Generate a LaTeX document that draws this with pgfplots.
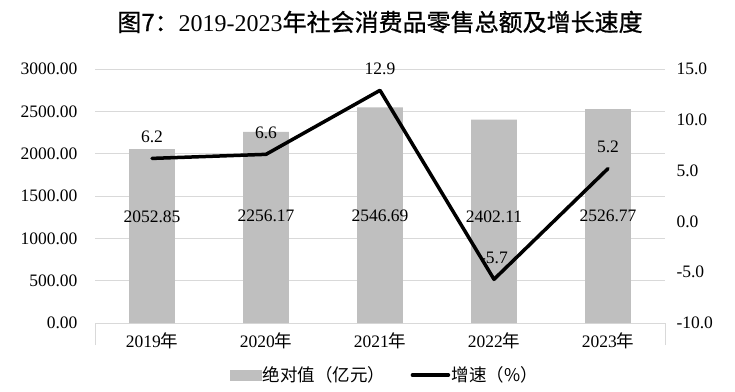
\documentclass[border=0pt]{standalone}
\usepackage{fontspec}
\setmainfont{Liberation Serif}
\newfontfamily\cjk{Noto Sans CJK SC}
\newfontfamily\cjkt[FakeBold=0.8]{Noto Sans CJK SC}
\usepackage{pgfplots}
\pgfplotsset{compat=1.18}
\definecolor{barcol}{RGB}{191,191,191}
\definecolor{gridcol}{RGB}{217,217,217}
\newcommand\fs{\fontsize{17.5pt}{20pt}\selectfont}
\begin{document}
\begin{tikzpicture}
\path[use as bounding box] (0,0) rectangle (735pt,391pt);
\node[font=\fontsize{24pt}{28pt}\selectfont] at (380pt,369pt) {{\cjkt 图7：}2019-2023{\cjkt 年社会消费品零售总额及增长速度}};
\begin{axis}[
  at={(95pt,68pt)}, anchor=south west,
  scale only axis, width=570pt, height=254pt,
  xmin=-0.5, xmax=4.5, ymin=0, ymax=3000,
  ytick={0,500,...,3000},
  ymajorgrids, grid style={gridcol, line width=0.8pt},
  axis line style={draw=none},
  xtick={0,1,2,3,4},
  xticklabels={{2019{\cjk 年}},{2020{\cjk 年}},{2021{\cjk 年}},{2022{\cjk 年}},{2023{\cjk 年}}},
  xtick pos=left, ytick pos=left,
  major tick length=0pt,
  extra x ticks={-0.5,4.5}, extra x tick labels={},
  extra x tick style={major tick length=22pt, tick align=outside, tick style={gridcol, line width=0.8pt}},
  tick label style={font=\fs},
  xticklabel style={yshift=-6pt},
  yticklabel style={xshift=-14pt},
  /pgf/number format/assume math mode=true,
  /pgf/number format/fixed, /pgf/number format/fixed zerofill,
  /pgf/number format/precision=2, /pgf/number format/1000 sep={},
  clip=false,
]
\addplot[ybar, bar width=0.4, fill=barcol, draw=none] coordinates {(0,2052.85) (1,2256.17) (2,2546.69) (3,2402.11) (4,2526.77)};
\addplot[draw=none, mark=none, nodes near coords, point meta=explicit symbolic,
  nodes near coords style={anchor=center, font=\fs, inner sep=0pt}]
  coordinates {(0,1260)[2052.85] (1,1260)[2256.17] (2,1260)[2546.69] (3,1260)[2402.11] (4,1260)[2526.77]};
\end{axis}
\begin{axis}[
  at={(95pt,68pt)}, anchor=south west,
  scale only axis, width=570pt, height=254pt,
  xmin=-0.5, xmax=4.5, ymin=-10, ymax=15,
  ytick={-10,-5,...,15},
  axis line style={draw=none},
  xtick=\empty,
  yticklabel pos=right, ytick pos=right,
  major tick length=0pt,
  tick label style={font=\fs},
  yticklabel style={xshift=8pt},
  /pgf/number format/assume math mode=true,
  /pgf/number format/fixed, /pgf/number format/fixed zerofill,
  /pgf/number format/precision=1,
  clip=false,
  legend style={at={(0.508,-0.205)}, anchor=center, legend columns=2, draw=none, fill=none,
    font=\fs, nodes={inner sep=1.5pt},
    /tikz/every even column/.append style={column sep=24pt}},
]
\addlegendimage{legend image code/.code={\fill[barcol] (0pt,-5pt) rectangle (31pt,5pt);}}
\addlegendentry{{\cjk 绝对值（亿元）}}
\addplot[black, line width=3.5pt, line join=round, line cap=round, mark=none,
  nodes near coords, point meta=explicit symbolic,
  nodes near coords style={anchor=south, font=\fs, inner sep=0pt, yshift=14pt},
  legend image code/.code={\draw[black, line width=3.5pt] (0pt,0pt) -- (36pt,0pt);}]
  coordinates {(0,6.2)[6.2] (1,6.6)[6.6] (2,12.9)[12.9] (3,-5.7)[-5.7] (4,5.2)[5.2]};
\addlegendentry{{\cjk 增速（\%）}}
\end{axis}
\end{tikzpicture}
\end{document}
